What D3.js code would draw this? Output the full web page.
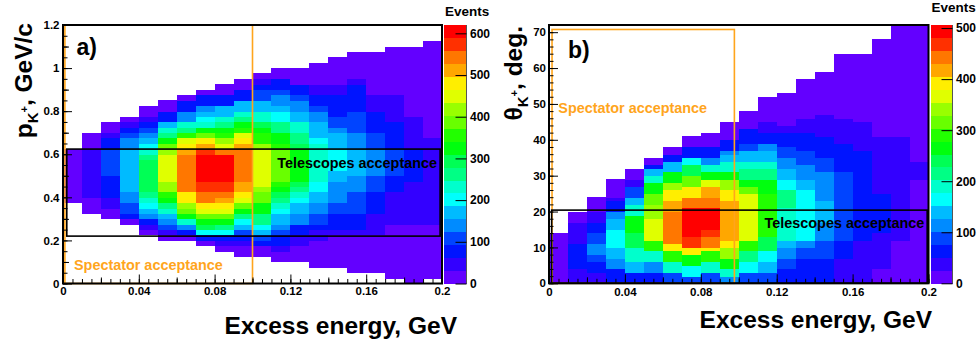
<!DOCTYPE html>
<html><head><meta charset="utf-8">
<script src="https://cdn.jsdelivr.net/npm/d3@7"></script>
<style>
html,body{margin:0;padding:0;background:#fff;}
svg{display:block;}
text{font-family:"Liberation Sans",Arial,Helvetica,sans-serif;font-weight:bold;fill:#000;}
</style></head><body>
<svg id="c" width="979" height="347"></svg>
<script>
// ---------------- data ----------------
// x bins: excess energy (GeV)
const xBinEdges = [0,0.01,0.02,0.03,0.04,0.05,0.06,0.07,0.08,0.09,0.10,0.11,0.12,0.13,0.14,0.15,0.16,0.17,0.18,0.19,0.20];
const pBinWidth = 0.025;      // panel a: kaon momentum bins, GeV/c
const thetaBinWidth = 1;      // panel b: kaon angle bins, deg
// colour level (0..19) read off each cell; one entry per x bin: [first y bin, run-length "level*count" going up]
const levelsA = [
  [15,"0*10"],
  [13,"0*3 1*9 0*3"],
  [12,"0*2 1*2 2*4 3*5 2*2 1 0*2"],
  [11,"0 2 3*2 4*2 5*8 4*2 3 2 1 0"],
  [9,"0 1 2 4 5 6 7 8 9*6 8 7 6 5 4 3 2 1 0*2"],
  [8,"0 1 3 4 5 7 8 10 11 13*2 14*5 13 12 10 8 7 5 2*2 0*2"],
  [8,"0 2 4 7 10 12 13 15*2 17*7 16 15 14 11 8 7 4*2 2*2 0"],
  [7,"0 2 6 9 10 12 14 15 17*2 18*2 19*5 18 16 15 12 10 7 6 5 4 2*2 0"],
  [6,"0 1 2 6 8 10 12 14 15 16 17 18*2 19*5 17 14 13 11 10 8 7 5*2 2*2 0*2"],
  [5,"0*2 1 2 3 5 6 8 10 12 14 15 16*2 17*6 16 15 14 11 10 8 7 5*2 2*2 0*2"],
  [5,"0*2 2 3 5 6 8*2 10*2 12*2 13 14*7 13 11*2 10 9 7*2 5*2 3*2 2 1 0"],
  [4,"0*2 1 2*2 3 4 5*2 6 7 8 9 10 11 12*6 11 10*2 8*2 6*2 5 4*2 3 2*2 0*2"],
  [4,"0*3 1*2 2*2 4*2 5*2 6 7 8 9 10*6 9 8*2 7*2 5*2 4*2 3 2*2 0*3"],
  [3,"0*5 1*2 2 3*2 4*2 5*2 6*2 7*7 6 5*3 4*2 3 2*2 1*2 0*4"],
  [3,"0*6 1 2*3 3*2 4*4 5*2 6*4 5*3 4 3*2 2*4 1*2 0*5"],
  [2,"0*7 1 2*3 3*4 4*3 5*5 4*3 3*4 2*5 1 0*5"],
  [2,"0*7 1*4 2*4 3*3 4*5 3*3 2*4 1*3 0*8"],
  [1,"0*10 1*6 2*3 3*5 2*5 1*5 0*9"],
  [0,"0*11 1*8 2*6 1*6 0*13"],
  [1,"0*10 1*16 0*18"]
];
const levelsB = [
  [0,"0*14"],
  [0,"1*4 2*7 1*6 0*3"],
  [0,"1*3 2*3 3*2 4*3 3*3 2*3 1*3 0*4"],
  [0,"2*4 4*3 5*3 6*5 5*3 4*2 2*3 1 0*5"],
  [0,"2*3 5*3 7*4 9*4 10*5 7*3 5*2 3*3 1*2 0*3"],
  [0,"2*3 4*3 7*3 11*3 14*6 13*4 12*3 10*3 7*2 5*2 2 0*2"],
  [0,"3*3 7*3 11*3 15*2 17*9 16*3 15*3 13*2 10*3 5*3 2*2 0*2"],
  [0,"3*2 6*3 10*3 15*2 18*3 19*8 17*3 15*3 12*3 9*3 6*2 2*3 0*3"],
  [0,"3*3 7*3 11*3 15 17*3 18*2 19*6 17*3 16*3 14*2 10*2 7*2 4*2 2*3 0*4"],
  [0,"4*2 7*2 10*3 13*3 15*2 16*11 15*3 13*3 10*2 7*3 5*2 4 2*3 0*5"],
  [0,"3*3 6*3 8*3 11*3 14*13 12*2 10*2 8*3 7*2 5*3 3*2 2*4 0*5"],
  [0,"3*3 5*3 6*3 9*4 11*12 10*4 8*3 7*2 5*3 4*2 2*3 1*3 0*7"],
  [0,"2*4 3*3 4*3 5*2 7*9 8*5 6*3 5*3 4*3 3*3 2*4 1*2 0*9"],
  [0,"2*7 3*3 4*2 6*14 5*3 4*4 3*4 2*5 1*4 0*11"],
  [0,"2*7 3*5 4*5 5*6 4*8 3*4 2*6 1*6 0*12"],
  [0,"1*7 2*5 3*19 2*8 1*7 0*18"],
  [0,"1*12 2*25 1*8 0*19"],
  [0,"0*4 1*10 2*11 1*16 0*27"],
  [0,"0*12 1*29 0*31"],
  [0,"0*29 1*5 0*38"]
];
const zMaxA = 620, zMaxB = 506;            // top of the "Events" colour scales
const zTicksA = [0,100,200,300,400,500,600];
const zTicksB = [0,100,200,300,400,500];
const xTickLabels = [0,0.04,0.08,0.12,0.16,0.2];
const pTickLabels = [0,0.2,0.4,0.6,0.8,1,1.2];
const thetaTickLabels = [0,10,20,30,40,50,60,70];
// acceptance boxes (data units)
const spectatorA = {x:[0.001,0.1], y:[0,1.2]};
const telescopeA = {x:[0.002,0.199], y:[0.22,0.624]};
const spectatorB = {x:[0.0016,0.0977], y:[0,70.75]};
const telescopeB = {x:[0.0014,0.1993], y:[0,20.4]};

const palette = ["#6300ff","#3300ff","#0014ff","#0044ff","#008bff","#00bbff","#00fffc","#00ffcc","#00ff85","#00ff55",
                 "#00ff0e","#22ff00","#69ff00","#99ff00","#e0ff00","#ffee00","#ffa700","#ff7700","#ff3000","#ff0000"];
const ORANGE = "#ffa51c";

// ---------------- drawing ----------------
const svg = d3.select("#c");

function parseCol(start, rle){
  const out=[]; let j=start;
  rle.trim().split(/\s+/).forEach(tok=>{
    const parts=tok.split("*"); const L=+parts[0], N=parts.length>1?+parts[1]:1;
    for(let k=0;k<N;k++){ out.push({j:j, level:L}); j++; }
  });
  return out;
}

function fmtX(d){ return d===0?"0":String(+d.toFixed(2)); }

function drawPanel(cfg){
  const g = svg.append("g");
  const x = d3.scaleLinear().domain([0,0.2]).range([cfg.left,cfg.right]);
  const y = d3.scaleLinear().domain(cfg.yDomain).range([cfg.bottom,cfg.top]);
  const step = cfg.zMax/palette.length;
  const color = d3.scaleQuantize().domain([0,cfg.zMax]).range(palette);
  const cells=[];
  cfg.levels.forEach((col,c)=>{
    parseCol(col[0],col[1]).forEach(d=>{
      cells.push({x0:xBinEdges[c],x1:xBinEdges[c+1],y0:d.j*cfg.yBin,y1:(d.j+1)*cfg.yBin,v:(d.level+0.5)*step});
    });
  });
  const clipId = "clip"+cfg.name;
  svg.append("clipPath").attr("id",clipId).append("rect")
    .attr("x",cfg.left).attr("y",cfg.top).attr("width",cfg.right-cfg.left).attr("height",cfg.bottom-cfg.top);
  g.append("g").attr("clip-path",`url(#${clipId})`).selectAll("rect").data(cells).join("rect")
    .attr("x",d=>x(d.x0)).attr("y",d=>y(d.y1))
    .attr("width",d=>x(d.x1)-x(d.x0)+0.4).attr("height",d=>y(d.y0)-y(d.y1)+0.4)
    .attr("fill",d=>color(d.v)).attr("shape-rendering","crispEdges");

  // acceptance boxes
  const box=(b,col,w)=>g.append("rect").attr("x",x(b.x[0])).attr("y",y(b.y[1]))
      .attr("width",x(b.x[1])-x(b.x[0])).attr("height",y(b.y[0])-y(b.y[1]))
      .attr("fill","none").attr("stroke",col).attr("stroke-width",w);
  box(cfg.spectator,ORANGE,1.6);
  box(cfg.telescope,"#000",1.6);

  // axes (inside ticks)
  const styleAxis=(sel)=>{ sel.select(".domain").remove(); sel.selectAll("line").attr("stroke","#000").attr("stroke-width",1); };
  const xAx = g.append("g").attr("transform",`translate(0,${cfg.bottom})`);
  xAx.append("g").call(d3.axisBottom(x).tickValues(d3.range(0,0.2001,0.005)).tickSize(-4.5).tickFormat("")).call(styleAxis);
  xAx.append("g").call(d3.axisBottom(x).tickValues(d3.range(0.02,0.2,0.04)).tickSize(-6).tickFormat("")).call(styleAxis);
  xAx.append("g").call(d3.axisBottom(x).tickValues(xTickLabels).tickSize(-9).tickPadding(cfg.xPad).tickFormat(fmtX)).call(styleAxis)
     .selectAll("text").style("font-size","11.5px").attr("font-family",null).attr("fill","#000");
  const yAx = g.append("g").attr("transform",`translate(${cfg.left},0)`);
  yAx.append("g").call(d3.axisLeft(y).tickValues(cfg.yMinor).tickSize(-4.5).tickFormat("")).call(styleAxis);
  if(cfg.yMid) yAx.append("g").call(d3.axisLeft(y).tickValues(cfg.yMid).tickSize(-6).tickFormat("")).call(styleAxis);
  yAx.append("g").call(d3.axisLeft(y).tickValues(cfg.yTicks).tickSize(-9).tickPadding(cfg.yPad).tickFormat(d=>String(d))).call(styleAxis)
     .selectAll("text").style("font-size","11.5px").attr("font-family",null).attr("fill","#000");

  // frame
  g.append("rect").attr("x",cfg.left).attr("y",cfg.top).attr("width",cfg.right-cfg.left).attr("height",cfg.bottom-cfg.top)
    .attr("fill","none").attr("stroke","#000").attr("stroke-width",2);

  // palette
  const z = d3.scaleLinear().domain([0,cfg.zMax]).range([cfg.bottom,cfg.top]);
  g.append("g").selectAll("rect").data(palette).join("rect")
    .attr("x",cfg.palX0).attr("width",cfg.palX1-cfg.palX0)
    .attr("y",(c,i)=>z((i+1)*step)).attr("height",(c,i)=>z(i*step)-z((i+1)*step)+0.4)
    .attr("fill",c=>c).attr("shape-rendering","crispEdges");
  g.append("line").attr("x1",cfg.palX1).attr("x2",cfg.palX1).attr("y1",cfg.top).attr("y2",cfg.bottom).attr("stroke","#555").attr("stroke-width",1);
  g.append("g").attr("transform",`translate(${cfg.palX1},0)`)
    .call(d3.axisRight(z).tickValues(cfg.zTicks).tickSize(-11).tickPadding(3.5).tickFormat(d=>String(d))).call(styleAxis)
    .selectAll("text").style("font-size","12px").attr("font-family",null).attr("fill","#000");
  g.append("text").attr("x",cfg.palX0+1).attr("y",cfg.eventsY).style("font-size","13.5px").text("Events");

  // titles
  g.append("text").attr("x",cfg.xTitleEnd).attr("y",cfg.xTitleY).attr("text-anchor","end").style("font-size","24.5px").text("Excess energy, GeV");
  const t = g.append("text").attr("transform",`translate(${cfg.yTitleX},${cfg.yTitleTop}) rotate(-90)`).attr("text-anchor","end").style("font-size","24.5px");
  t.append("tspan").text(cfg.ySym);
  t.append("tspan").attr("dy",6).style("font-size","15px").text("K");
  t.append("tspan").attr("dy",-10).style("font-size","11px").text("+");
  t.append("tspan").attr("dy",4).style("font-size","24.5px").text(cfg.yUnit);

  g.append("text").attr("x",cfg.tagX).attr("y",cfg.tagY).style("font-size","23px").text(cfg.tag);
  g.append("text").attr("x",cfg.specX).attr("y",cfg.specY).style("font-size","14.4px").style("fill",ORANGE).text("Spectator acceptance");
  g.append("text").attr("x",cfg.telX).attr("y",cfg.telY).attr("text-anchor","end").style("font-size","14.4px").text("Telescopes acceptance");
}

drawPanel({name:"A", left:63, right:442, top:25, bottom:283.5, yDomain:[0,1.2], yBin:pBinWidth,
  levels:levelsA, zMax:zMaxA, zTicks:zTicksA, spectator:spectatorA, telescope:telescopeA,
  yTicks:pTickLabels, yMid:d3.range(0.1,1.2,0.2), yMinor:d3.range(0,1.2001,0.05),
  xPad:3.3, yPad:3.5, palX0:444, palX1:466.5, eventsY:15.5,
  xTitleEnd:457, xTitleY:334, yTitleX:31.5, yTitleTop:23, ySym:"p", yUnit:", GeV/c",
  tag:"a)", tagX:76.5, tagY:54.5, specX:74, specY:270, telX:437, telY:167.5});

drawPanel({name:"B", left:549, right:928.5, top:25, bottom:283.3, yDomain:[0,72], yBin:thetaBinWidth,
  levels:levelsB, zMax:zMaxB, zTicks:zTicksB, spectator:spectatorB, telescope:telescopeB,
  yTicks:thetaTickLabels, yMid:null, yMinor:d3.range(0,72.01,2),
  xPad:5, yPad:3, palX0:930.5, palX1:952.5, eventsY:12,
  xTitleEnd:932, xTitleY:328, yTitleX:522, yTitleTop:26, ySym:"θ", yUnit:", deg.",
  tag:"b)", tagX:568, tagY:58, specX:558.3, specY:113.3, telX:924.3, telY:228.3});
</script>
</body></html>
